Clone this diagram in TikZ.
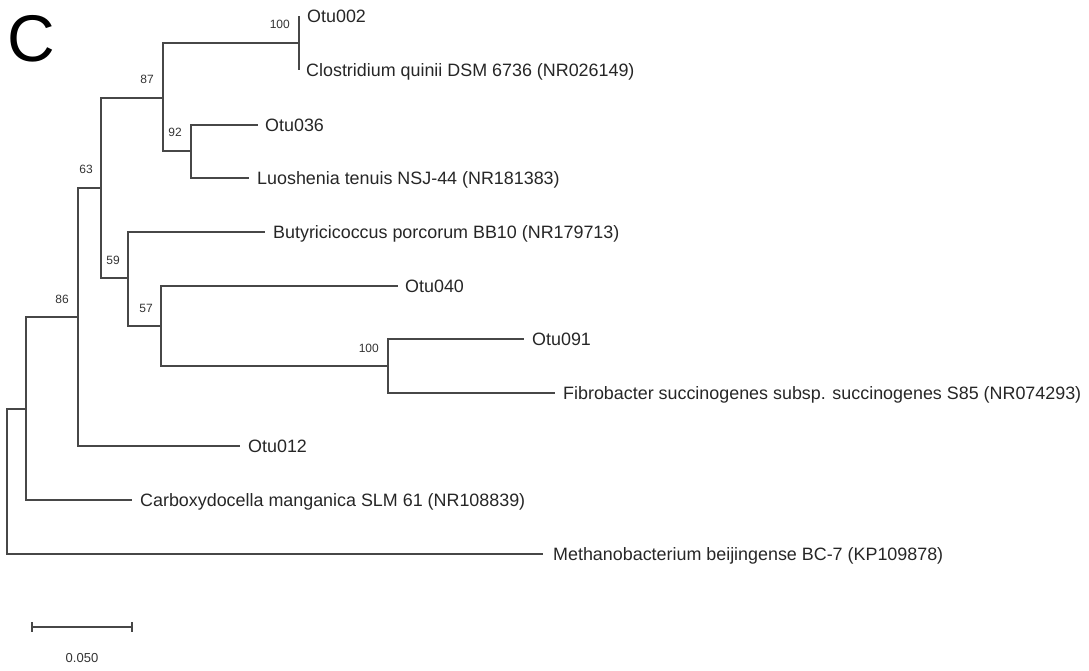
\documentclass[tikz,border=0pt]{standalone}
\usepackage{fontspec}
\setmainfont{Liberation Sans}
\usetikzlibrary{positioning}

\begin{document}
\begin{tikzpicture}[x=1pt, y=-1pt,
  branch/.style={draw=black!72, line width=1.3pt},
  leaf/.style={inner sep=0pt, text height=12.8pt, text depth=0pt, text=black!85,
    font=\fontsize{17.9}{20}\selectfont},
  boot/.style={anchor=base east, inner sep=0pt, text=black!80,
    font=\fontsize{12}{14}\selectfont}]
  \useasboundingbox (0,0) rectangle (1089,671);

  % Panel letter
  \node[anchor=base west, inner sep=0pt, font=\fontsize{66}{70}\selectfont] (panel) at (7,62) {C};

  % Internal nodes
  \coordinate (root) at (7,481);
  \coordinate (nA) at (26,409);
  \coordinate (n86) at (78,317);
  \coordinate (n63) at (101,188);
  \coordinate (n87) at (163,98);
  \coordinate (n100a) at (299,43);
  \coordinate (n92) at (191,151);
  \coordinate (n59) at (128,278);
  \coordinate (n57) at (161,326);
  \coordinate (n100b) at (388,366);

  % Tips
  \coordinate (t002) at (299,16);
  \coordinate (tclos) at (299,70);
  \coordinate (t036) at (258,125);
  \coordinate (tluo) at (249,178);
  \coordinate (tbut) at (265,232);
  \coordinate (t040) at (398,286);
  \coordinate (t091) at (524,339);
  \coordinate (tfib) at (555,393);
  \coordinate (t012) at (240,446);
  \coordinate (tcarb) at (132,500);
  \coordinate (tmeth) at (543,554);

  % Leaf labels
  \node[leaf, right=8pt of t002] (otu002) {Otu002};
  \node[leaf, right=7pt of tclos] (clos) {Clostridium quinii DSM 6736 (NR026149)};
  \node[leaf, right=7pt of t036] (otu036) {Otu036};
  \node[leaf, right=8pt of tluo] (luo) {Luoshenia tenuis NSJ-44 (NR181383)};
  \node[leaf, right=8pt of tbut] (but) {Butyricicoccus porcorum BB10 (NR179713)};
  \node[leaf, right=7pt of t040] (otu040) {Otu040};
  \node[leaf, right=8pt of t091] (otu091) {Otu091};
  \node[leaf, right=8pt of tfib] (fib) {Fibrobacter succinogenes subsp. succinogenes S85 (NR074293)};
  \node[leaf, right=8pt of t012] (otu012) {Otu012};
  \node[leaf, right=8pt of tcarb] (carb) {Carboxydocella manganica SLM 61 (NR108839)};
  \node[leaf, right=10pt of tmeth] (meth) {Methanobacterium beijingense BC-7 (KP109878)};

  % Bootstrap values
  \node[boot] (b86) at ([xshift=-9pt, yshift=14pt]n86) {86};
  \node[boot] (b63) at ([xshift=-8pt, yshift=14pt]n63) {63};
  \node[boot] (b87) at ([xshift=-9pt, yshift=14pt]n87) {87};
  \node[boot] (b100a) at ([xshift=-9pt, yshift=14pt]n100a) {100};
  \node[boot] (b92) at ([xshift=-9pt, yshift=14pt]n92) {92};
  \node[boot] (b59) at ([xshift=-8pt, yshift=14pt]n59) {59};
  \node[boot] (b57) at ([xshift=-8pt, yshift=14pt]n57) {57};
  \node[boot] (b100b) at ([xshift=-9pt, yshift=14pt]n100b) {100};

  % Branches
  \draw[branch] (root) |- (nA);
  \draw[branch] (root) |- (tmeth);
  \draw[branch] (nA) |- (n86);
  \draw[branch] (nA) |- (tcarb);
  \draw[branch] (n86) |- (n63);
  \draw[branch] (n86) |- (t012);
  \draw[branch] (n63) |- (n87);
  \draw[branch] (n63) |- (n59);
  \draw[branch] (n87) |- (n100a);
  \draw[branch] (n87) |- (n92);
  \draw[branch] (n100a) |- (t002);
  \draw[branch] (n100a) |- (tclos);
  \draw[branch] (n92) |- (t036);
  \draw[branch] (n92) |- (tluo);
  \draw[branch] (n59) |- (tbut);
  \draw[branch] (n59) |- (n57);
  \draw[branch] (n57) |- (t040);
  \draw[branch] (n57) |- (n100b);
  \draw[branch] (n100b) |- (t091);
  \draw[branch] (n100b) |- (tfib);

  % Scale bar
  \coordinate (sbl) at (32,627);
  \coordinate (sbr) at (132,627);
  \draw[branch] (sbl) -- (sbr);
  \draw[branch] ([yshift=5pt]sbl) -- ([yshift=-5pt]sbl);
  \draw[branch] ([yshift=5pt]sbr) -- ([yshift=-5pt]sbr);
  \node[inner sep=0pt, text=black!80, font=\fontsize{13}{15}\selectfont] (sblabel) at (82,658) {0.050};
\end{tikzpicture}
\end{document}
